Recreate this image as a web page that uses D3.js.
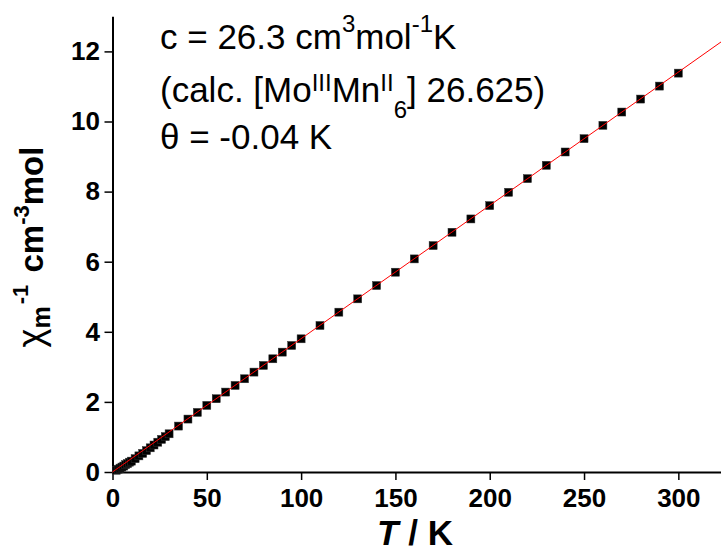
<!DOCTYPE html>
<html><head><meta charset="utf-8">
<script src="https://cdn.jsdelivr.net/npm/d3@7"></script>
<style>
html,body{margin:0;padding:0;background:#fff;}
svg{display:block;}
text{font-family:"Liberation Sans",Arial,sans-serif;}
</style></head>
<body>
<svg id="chart" width="721" height="552"></svg>
<script>
// ---- data ----
const temperature = [2,3,4,5,6,7,8,9,10,12,14,16,18,20,22,24,26,28,30,
  35,40,45,50,55,60,65,70,75,80,85,90,95,100,
  110,120,130,140,150,160,170,180,190,200,210,220,230,240,250,260,270,280,290,300];
const invChi = [0.05,0.08,0.11,0.14,0.17,0.21,0.24,0.28,0.31,0.38,0.46,0.53,0.61,0.69,0.77,0.85,0.93,1.01,1.09,
  1.31,1.51,1.70,1.90,2.09,2.28,2.47,2.66,2.85,3.04,3.23,3.42,3.61,3.80,
  4.18,4.56,4.94,5.32,5.70,6.08,6.46,6.84,7.22,7.60,7.98,8.37,8.75,9.13,9.51,9.89,10.27,10.64,11.01,11.38];
const fitT = [0, 325];
const fitInvChi = [0.0015, 12.36];
const xMajorTicks = [0,50,100,150,200,250,300];
const xMinorTicks = [25,75,125,175,225,275,325];
const yMajorTicks = [0,2,4,6,8,10,12];
const yMinorTicks = [1,3,5,7,9,11,13];

const svg = d3.select("#chart");
const x = d3.scaleLinear().domain([0, 325]).range([112.5, 725.5]);
const y = d3.scaleLinear().domain([0, 13]).range([472, 472 - 13 * 35.05]);

// axes
const gx = svg.append("g").attr("transform", "translate(0,472)");
gx.call(d3.axisBottom(x).tickValues(xMinorTicks).tickSize(5).tickSizeOuter(0).tickFormat(""));
gx.call(d3.axisBottom(x).tickValues(xMajorTicks).tickSize(8).tickSizeOuter(0).tickPadding(8.5).tickFormat(d3.format("d")));
const gy = svg.append("g").attr("transform", "translate(112.5,0)");
gy.call(d3.axisLeft(y).tickValues(yMinorTicks).tickSize(5).tickSizeOuter(0).tickFormat(""));
gy.call(d3.axisLeft(y).tickValues(yMajorTicks).tickSize(8).tickSizeOuter(0).tickPadding(4.5).tickFormat(d3.format("d")));
svg.selectAll(".domain").attr("stroke", "#000").attr("stroke-width", 2);
svg.selectAll(".tick line").attr("stroke", "#000").attr("stroke-width", 1.5);
svg.selectAll(".tick text").attr("font-family", "'Liberation Sans',Arial,sans-serif")
  .attr("font-size", 26).attr("font-weight", "bold").attr("fill", "#000");

// data squares
const pts = temperature.map((t, i) => ({t, v: invChi[i]}));
svg.append("g").selectAll("rect").data(pts).join("rect")
  .attr("x", d => x(d.t) - 4).attr("y", d => y(d.v) - 4)
  .attr("width", 8).attr("height", 8)
  .attr("fill", "#000").attr("stroke", "#333").attr("stroke-width", 0.5);

// fit line
const fit = fitT.map((t, i) => [t, fitInvChi[i]]);
svg.append("path").datum(fit)
  .attr("d", d3.line().x(d => x(d[0])).y(d => y(d[1])))
  .attr("fill", "none").attr("stroke", "#ff0000").attr("stroke-width", 1);

// annotation
const ann = svg.append("g").attr("font-size", 35).attr("fill", "#000");
const l1 = ann.append("text").attr("x", 160).attr("y", 49);
l1.append("tspan").text("c = 26.3 cm");
l1.append("tspan").attr("font-size", 24).attr("dy", -17).text("3");
l1.append("tspan").attr("dy", 17).text("mol");
l1.append("tspan").attr("font-size", 24).attr("dy", -17).text("-1");
l1.append("tspan").attr("dy", 17).text("K");
const l2 = ann.append("text").attr("x", 160).attr("y", 102);
l2.append("tspan").text("(calc. [Mo");
l2.append("tspan").attr("font-size", 24).attr("dy", -11).text("III");
l2.append("tspan").attr("dy", 11).text("Mn");
l2.append("tspan").attr("font-size", 24).attr("dy", -11).text("II");
l2.append("tspan").attr("font-size", 24).attr("dy", 27).text("6");
l2.append("tspan").attr("dy", -16).text("] 26.625)");
ann.append("text").attr("x", 160).attr("y", 149).text("\u03b8 = -0.04 K");

// y label
const yl = svg.append("text").attr("transform", "translate(43,247) rotate(-90)")
  .attr("text-anchor", "middle").attr("font-size", 33).attr("font-weight", "bold").attr("fill", "#000");
yl.append("tspan").attr("font-weight", "normal").attr("font-size", 36).text("\u03c7");
yl.append("tspan").attr("font-size", 25).attr("dy", 7).text("m");
yl.append("tspan").attr("font-size", 22).attr("dx", 2).attr("dy", -22).text("-1");
yl.append("tspan").attr("dx", 3).attr("dy", 15).text(" cm");
yl.append("tspan").attr("font-size", 22).attr("dy", -14).text("-3");
yl.append("tspan").attr("dy", 14).text("mol");

// x label
const xl = svg.append("text").attr("x", 415).attr("y", 545).attr("text-anchor", "middle")
  .attr("font-size", 35).attr("font-weight", "bold").attr("fill", "#000");
xl.append("tspan").attr("font-style", "italic").text("T");
xl.append("tspan").text(" / K");
</script>
</body></html>
